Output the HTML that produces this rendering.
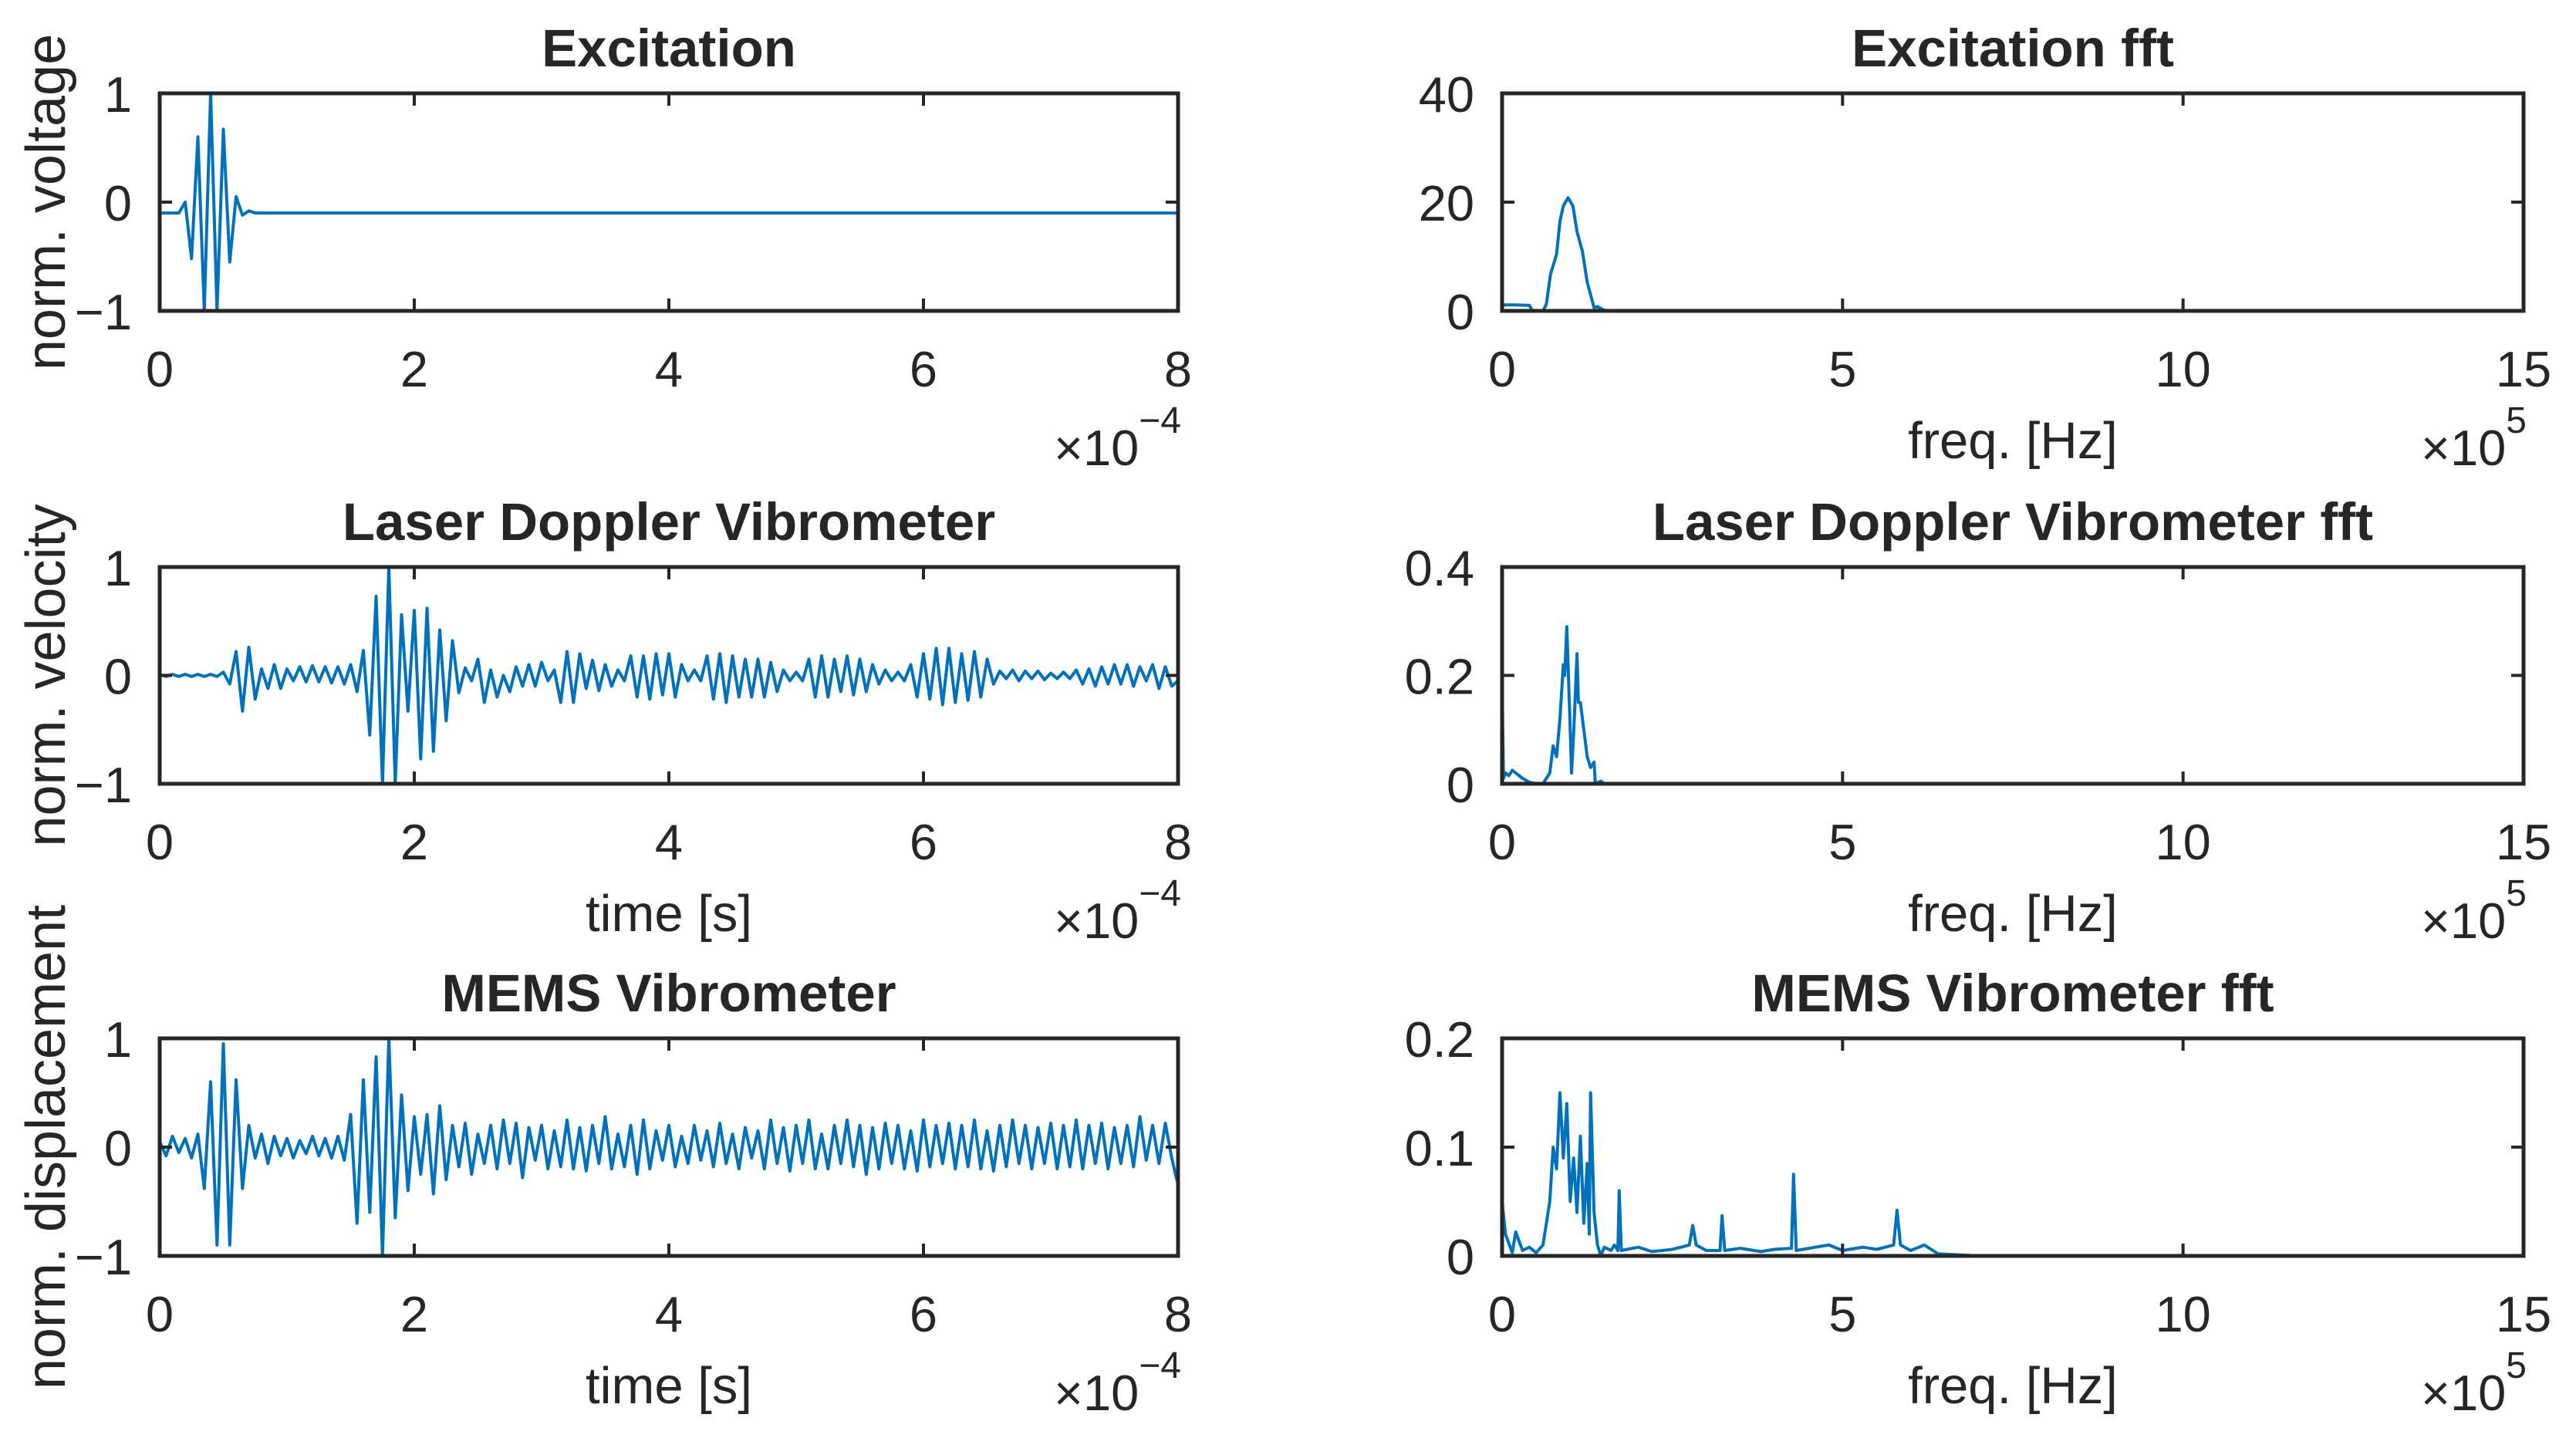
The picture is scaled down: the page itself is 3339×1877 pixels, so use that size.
<!DOCTYPE html>
<html><head><meta charset="utf-8"><title>Vibrometer signals</title>
<style>
html,body{margin:0;padding:0;background:#fff;}
svg{display:block;}
text{font-family:"Liberation Sans",Arial,sans-serif;fill:#262626;}
</style></head>
<body>
<svg id="fig" width="3339" height="1877" viewBox="0 0 3339 1877" xmlns="http://www.w3.org/2000/svg"></svg>
<script>
// ---------- data ----------
const timeTicks = [0, 2, 4, 6, 8];
const freqTicks = [0, 5, 10, 15];
const normTicks = [-1, 0, 1];
const excFftTicks = [0, 20, 40];
const ldvFftTicks = [0, 0.2, 0.4];
const memsFftTicks = [0, 0.1, 0.2];

// excitation (time in 1e-4 s)
const excTime = [0,0.05,0.1,0.15,0.2,0.25,0.3,0.35,0.4,0.45,0.5,0.55,0.6,0.65,0.7,0.75,8];
const excValues = [-0.1,-0.1,-0.1,-0.1,0.0,-0.52,0.6,-1.0,1.0,-1.0,0.67,-0.55,0.05,-0.12,-0.08,-0.1,-0.1];

// LDV sampled every 0.05e-4 s
const ldvStep = 0.05;
const ldvValues = [0.01,-0.01,0.01,-0.01,0.01,-0.01,0.01,-0.01,0.01,-0.01,0.03,
-0.08,0.22,-0.33,0.26,-0.22,0.06,-0.12,0.1,-0.12,0.06,-0.05,0.08,-0.06,0.09,-0.06,0.08,-0.07,0.08,-0.08,0.1,
-0.15,0.23,-0.55,0.73,-1.0,1.0,-1.0,0.56,-0.33,0.6,-0.77,0.62,-0.7,0.42,-0.42,0.32,-0.16,0.07,-0.05,0.15,
-0.25,0.05,-0.2,0.0,-0.15,0.08,-0.1,0.1,-0.1,0.12,-0.05,0.05,-0.25,0.22,-0.25,0.2,-0.12,0.14,-0.14,0.1,
-0.1,0.05,-0.05,0.18,-0.2,0.18,-0.22,0.2,-0.18,0.2,-0.2,0.1,-0.05,0.05,-0.05,0.18,-0.22,0.2,-0.25,0.18,
-0.2,0.15,-0.2,0.15,-0.2,0.12,-0.15,0.05,-0.05,0.03,-0.05,0.15,-0.2,0.18,-0.2,0.15,-0.15,0.18,-0.18,0.15,
-0.15,0.1,-0.08,0.05,-0.05,0.03,-0.05,0.1,-0.2,0.2,-0.22,0.25,-0.27,0.25,-0.25,0.2,-0.23,0.22,-0.2,0.15,
-0.08,0.04,-0.03,0.05,-0.05,0.04,-0.03,0.04,-0.04,0.02,-0.03,0.03,-0.03,0.05,-0.08,0.06,-0.1,0.08,-0.08,0.1,
-0.08,0.1,-0.1,0.08,-0.05,0.1,-0.12,0.08,-0.1,-0.05];

// MEMS sampled every 0.05e-4 s
const memsStep = 0.05;
const memsValues = [0.05,-0.08,0.1,-0.05,0.08,-0.1,0.12,
-0.38,0.6,-0.9,0.95,-0.9,0.62,-0.38,0.2,-0.1,0.12,-0.15,0.1,-0.08,0.08,-0.1,0.06,-0.06,0.1,-0.08,0.08,-0.1,0.1,-0.12,
0.3,-0.7,0.62,-0.6,0.83,-1.0,1.0,-0.65,0.48,-0.4,0.28,-0.25,0.3,-0.43,0.38,-0.3,
0.2,-0.18,0.22,-0.25,0.12,-0.15,0.2,-0.2,0.25,-0.15,
0.22,-0.28,0.18,-0.12,0.2,-0.2,0.15,-0.18,0.25,-0.2,
0.18,-0.22,0.2,-0.15,0.28,-0.2,0.12,-0.18,0.2,-0.25,
0.25,-0.2,0.15,-0.12,0.2,-0.18,0.1,-0.15,0.2,-0.12,
0.15,-0.18,0.22,-0.15,0.12,-0.2,0.18,-0.1,0.15,-0.2,
0.25,-0.15,0.18,-0.22,0.2,-0.15,0.25,-0.2,0.12,-0.2,
0.2,-0.15,0.25,-0.18,0.2,-0.25,0.18,-0.2,0.22,-0.15,
0.2,-0.2,0.15,-0.22,0.25,-0.18,0.2,-0.15,0.22,-0.2,
0.2,-0.18,0.25,-0.2,0.15,-0.22,0.2,-0.18,0.25,-0.15,
0.2,-0.2,0.18,-0.15,0.22,-0.2,0.2,-0.18,0.25,-0.2,
0.2,-0.15,0.22,-0.2,0.18,-0.15,0.2,-0.18,0.28,-0.12,
0.2,-0.15,0.22,-0.1,-0.35];

// FFTs (freq in 1e5 Hz)
const excFftFreq = [0,0.2,0.4,0.45,0.6,0.65,0.71,0.8,0.85,0.9,0.97,1.04,1.1,1.18,1.25,1.35,1.4,1.5,1.6,12.8];
const excFftValues = [1.1,1.1,1.0,0.0,0.0,1.2,6.7,10.4,16.5,19.3,20.8,19.3,14.6,10.9,5.3,0.6,0.8,0.1,0.05,0.05];

const ldvFftFreq = [0,0.02,0.05,0.1,0.15,0.2,0.25,0.3,0.4,0.5,0.6,0.7,0.75,0.8,0.85,0.9,0.92,0.95,1.0,1.02,1.05,1.1,1.12,1.15,1.2,1.25,1.3,1.35,1.37,1.45,1.5,12.8];
const ldvFftValues = [0.19,0.01,0.02,0.015,0.025,0.02,0.015,0.01,0.003,0,0,0.02,0.07,0.05,0.12,0.22,0.2,0.29,0.1,0.02,0.09,0.24,0.15,0.15,0.1,0.05,0.03,0.04,0,0.005,0,0];

const memsFftFreq = [0,0.05,0.15,0.2,0.3,0.4,0.5,0.6,0.7,0.75,0.8,0.85,0.9,0.95,1.0,1.05,1.1,1.15,1.2,1.25,1.28,1.3,1.35,1.4,1.45,1.5,1.6,1.65,1.7,1.72,1.75,2.0,2.2,2.5,2.75,2.8,2.85,3.0,3.2,3.23,3.27,3.5,3.8,4.0,4.25,4.28,4.32,4.6,4.8,5.0,5.3,5.5,5.75,5.8,5.85,6.0,6.2,6.4,7.0,12.8];
const memsFftValues = [0.05,0.02,0.003,0.022,0.005,0.008,0.003,0.01,0.05,0.1,0.08,0.15,0.09,0.14,0.05,0.09,0.04,0.11,0.03,0.085,0.02,0.15,0.04,0.01,0.0,0.008,0.005,0.01,0.005,0.06,0.005,0.008,0.004,0.006,0.01,0.028,0.01,0.005,0.005,0.037,0.005,0.007,0.004,0.006,0.007,0.075,0.005,0.008,0.01,0.005,0.008,0.006,0.01,0.042,0.01,0.005,0.01,0.002,0.0,0.0];

// ---------- drawing ----------
const NS = "http://www.w3.org/2000/svg";
const svg = document.getElementById("fig");
const LINE = "#0072BD", AX = "#262626";

function mk(tag, attrs, parent) {
  const e = document.createElementNS(NS, tag);
  for (const k in attrs) e.setAttribute(k, attrs[k]);
  (parent || svg).appendChild(e);
  return e;
}
function txt(parent, x, y, s, size, anchor, weight) {
  const t = mk("text", {x: x, y: y, "font-size": size, "text-anchor": anchor || "middle", "font-weight": weight || "normal"}, parent);
  t.textContent = s;
  return t;
}

function panel(cfg) {
  const g = mk("g", {});
  
  
  const L = cfg.x0, R = cfg.x1, T = cfg.y0, B = cfg.y1;
  const sx = v => L + (v - cfg.xmin) / (cfg.xmax - cfg.xmin) * (R - L);
  const sy = v => B - (v - cfg.ymin) / (cfg.ymax - cfg.ymin) * (B - T);

  const pts = cfg.xs.map((x, i) => sx(x).toFixed(1) + "," + sy(cfg.ys[i]).toFixed(1)).join(" ");
  const cp = mk("clipPath", {id: "clip-" + cfg.name}, g);
  mk("rect", {x: L, y: T - 2, width: R - L, height: B - T + 4}, cp);
  const pl = mk("polyline", {points: pts, fill: "none", stroke: LINE, "stroke-width": 4, "stroke-linejoin": "round", "clip-path": "url(#clip-" + cfg.name + ")"}, g);
  
  

  const box = mk("rect", {x: L, y: T, width: R - L, height: B - T, fill: "none", stroke: AX, "stroke-width": 5}, g);
  
  

  cfg.xticks.forEach(v => {
    const x = sx(v);
    mk("line", {x1: x, y1: B, x2: x, y2: B - 16, stroke: AX, "stroke-width": 4}, g);
    mk("line", {x1: x, y1: T, x2: x, y2: T + 16, stroke: AX, "stroke-width": 4}, g);
    const t = txt(g, x, B + 98, String(v), 65);
    
    
  });
  cfg.yticks.forEach(v => {
    const y = sy(v);
    mk("line", {x1: L, y1: y, x2: L + 16, y2: y, stroke: AX, "stroke-width": 4}, g);
    mk("line", {x1: R, y1: y, x2: R - 16, y2: y, stroke: AX, "stroke-width": 4}, g);
    const s = v < 0 ? "\u2212" + Math.abs(v) : String(v);
    const t = txt(g, L - 36, y + 24, s, 65, "end");
    
    
  });
  const ti = txt(g, (L + R) / 2, T - 35, cfg.title, 69, "middle", "bold");
  
  
  if (cfg.xlabel) {
    const xl = txt(g, (L + R) / 2, B + 191, cfg.xlabel, 67);
    
    
  }
  const ex = mk("text", {x: R + 4, y: B + 200, "font-size": 65, "text-anchor": "end"}, g);
  
  
  ex.textContent = "\u00d710";
  const sup = mk("tspan", {dy: -42, "font-size": 48}, ex);
  sup.textContent = cfg.exp;
  if (cfg.ylabel) {
    const cy = (T + B) / 2;
    const yl = mk("text", {x: 0, y: 0, "font-size": 72, "text-anchor": "middle", transform: "translate(84," + cy + ") rotate(-90)"}, g);
    
    
    yl.textContent = cfg.ylabel;
  }
}

const LX0 = 207, LX1 = 1527, RX0 = 1947, RX1 = 3271;
const rows = [[121, 403], [735, 1016], [1346, 1628]];
const ldvTime = ldvValues.map((v, i) => i * ldvStep);
const memsTime = memsValues.map((v, i) => i * memsStep);

panel({name: "excitation", x0: LX0, x1: LX1, y0: rows[0][0], y1: rows[0][1], xmin: 0, xmax: 8, ymin: -1, ymax: 1,
  xs: excTime, ys: excValues, xticks: timeTicks, yticks: normTicks, title: "Excitation", ylabel: "norm. voltage", exp: "\u22124"});
panel({name: "excitation-fft", x0: RX0, x1: RX1, y0: rows[0][0], y1: rows[0][1], xmin: 0, xmax: 15, ymin: 0, ymax: 40,
  xs: excFftFreq, ys: excFftValues, xticks: freqTicks, yticks: excFftTicks, title: "Excitation fft", xlabel: "freq. [Hz]", exp: "5"});
panel({name: "ldv", x0: LX0, x1: LX1, y0: rows[1][0], y1: rows[1][1], xmin: 0, xmax: 8, ymin: -1, ymax: 1,
  xs: ldvTime, ys: ldvValues, xticks: timeTicks, yticks: normTicks, title: "Laser Doppler Vibrometer", xlabel: "time [s]", ylabel: "norm. velocity", exp: "\u22124"});
panel({name: "ldv-fft", x0: RX0, x1: RX1, y0: rows[1][0], y1: rows[1][1], xmin: 0, xmax: 15, ymin: 0, ymax: 0.4,
  xs: ldvFftFreq, ys: ldvFftValues, xticks: freqTicks, yticks: ldvFftTicks, title: "Laser Doppler Vibrometer fft", xlabel: "freq. [Hz]", exp: "5"});
panel({name: "mems", x0: LX0, x1: LX1, y0: rows[2][0], y1: rows[2][1], xmin: 0, xmax: 8, ymin: -1, ymax: 1,
  xs: memsTime, ys: memsValues, xticks: timeTicks, yticks: normTicks, title: "MEMS Vibrometer", xlabel: "time [s]", ylabel: "norm. displacement", exp: "\u22124"});
panel({name: "mems-fft", x0: RX0, x1: RX1, y0: rows[2][0], y1: rows[2][1], xmin: 0, xmax: 15, ymin: 0, ymax: 0.2,
  xs: memsFftFreq, ys: memsFftValues, xticks: freqTicks, yticks: memsFftTicks, title: "MEMS Vibrometer fft", xlabel: "freq. [Hz]", exp: "5"});
</script>
</body></html>
